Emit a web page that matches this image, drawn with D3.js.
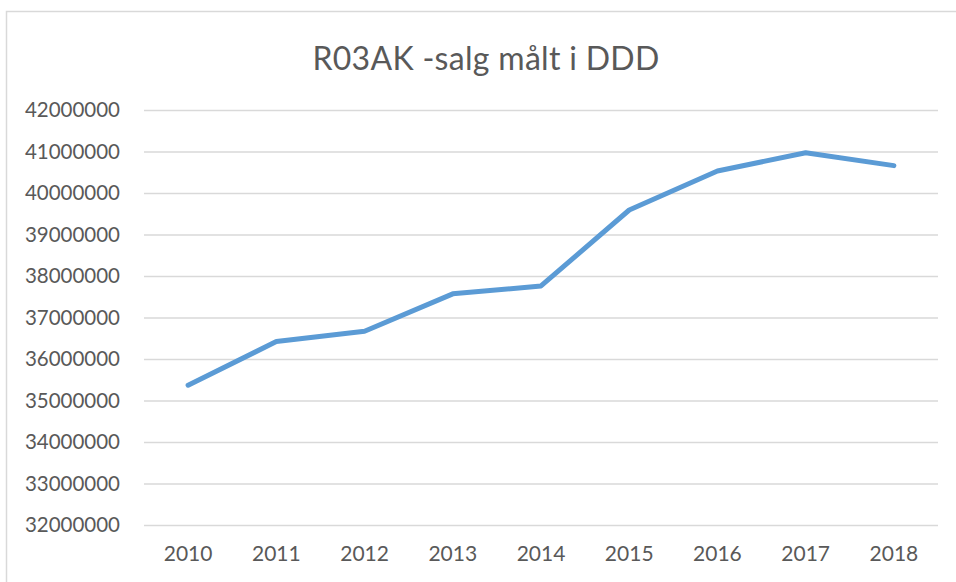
<!DOCTYPE html>
<html><head><meta charset="utf-8">
<script src="https://cdn.jsdelivr.net/npm/d3@7"></script>
<style>body{margin:0;background:#fff}svg{display:block}text{font-family:Lato,"Open Sans",sans-serif;fill:#595959}</style>
</head><body>
<script>
const years = ["2010","2011","2012","2013","2014","2015","2016","2017","2018"];
const values = [35370000,36420000,36670000,37570000,37760000,39590000,40530000,40970000,40660000];
const yTicks = [32000000,33000000,34000000,35000000,36000000,37000000,38000000,39000000,40000000,41000000,42000000];
const title = "R03AK -salg målt i DDD";

(function(){
const W=956,H=582;
const svg=d3.select("body").append("svg").attr("width",W).attr("height",H);
svg.append("rect").attr("x",6.5).attr("y",11.5).attr("width",W+10).attr("height",H+10)
  .attr("fill","#fff").attr("stroke","#d9d9d9").attr("stroke-width",1.5);

const pl=144,pr=938,pt=110,pb=525;
const x=d3.scaleBand().domain(years).range([pl,pr]);
const y=d3.scaleLinear().domain([32000000,42000000]).range([pb,pt]);

svg.append("text").attr("x",486).attr("y",70).attr("text-anchor","middle")
  .style("font-size","32px").style("letter-spacing","0.3px").text(title);

const ya=svg.append("g").attr("transform",`translate(${pl},0)`)
  .call(d3.axisLeft(y).tickValues(yTicks).tickSize(-(pr-pl)).tickPadding(24).tickFormat(d3.format("d")));
ya.select(".domain").remove();
ya.selectAll("line").attr("stroke","#d9d9d9").attr("stroke-width",1.5);
ya.selectAll("text").style("font-size","20.5px").style("fill","#595959").attr("font-family",null);

const xa=svg.append("g").attr("transform",`translate(0,${pb})`)
  .call(d3.axisBottom(x).tickSize(0).tickPadding(21));
xa.select(".domain").remove();
xa.selectAll("text").style("font-size","21px").style("fill","#595959").attr("font-family",null);

svg.append("path").datum(values.map((v,i)=>[years[i],v]))
  .attr("fill","none").attr("stroke","#5b9bd5").attr("stroke-width",5)
  .attr("stroke-linecap","round").attr("stroke-linejoin","round")
  .attr("d",d3.line().x(d=>x(d[0])+x.bandwidth()/2).y(d=>y(d[1])));
})();
</script>
</body></html>
